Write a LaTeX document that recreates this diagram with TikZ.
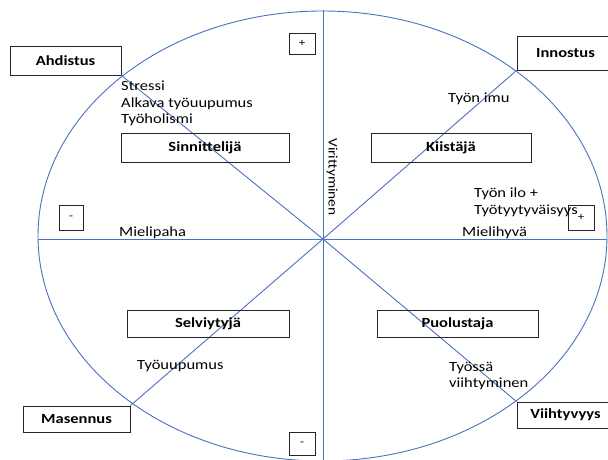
\documentclass[tikz,border=0pt]{standalone}
\usepackage{fontspec}
\setmainfont{Carlito}[FakeStretch=1.18]
\definecolor{axisblue}{HTML}{4A72C0}
\begin{document}
\begin{tikzpicture}[x=1pt,y=-1pt,
  every node/.style={font=\fontsize{14}{16.5}\selectfont, text=black},
  axis/.style={draw=axisblue, line width=0.9pt},
  lbl/.style={draw=black!85, line width=0.8pt, inner sep=0pt, font=\fontsize{14}{16.5}\selectfont\bfseries},
  sign/.style={draw=black!85, line width=0.8pt, inner sep=0pt, font=\fontsize{11}{12}\selectfont},
  txt/.style={inner sep=0pt, align=left, anchor=west}]
\clip (0,0) rectangle (608,460);
\fill[white] (0,0) rectangle (608,460);
% axes
\coordinate (c) at (323,239);
\coordinate (top) at (323,10);
\coordinate (bot) at (323,461);
\coordinate (lft) at (38,239);
\coordinate (rgt) at (607,239);
\draw[axis] (322.5,236) ellipse [x radius=284.5pt, y radius=225pt];
\draw[axis] (top) -- (bot);
\draw[axis] (lft) -- (rgt);
% corner boxes
\node[lbl, minimum width=111pt, minimum height=29pt] (ahd) at (65.5,60.5) {Ahdistus};
\node[lbl, minimum width=97pt, minimum height=34pt] (inn) at (565.5,53) {Innostus};
\node[lbl, minimum width=107pt, minimum height=26pt] (mas) at (76.5,419) {Masennus};
\node[lbl, minimum width=97pt, minimum height=26pt] (vii) at (565.5,415) {Viihtyvyys};
% diagonals
\draw[axis] (c) -- (ahd.south east);
\draw[axis] (c) -- (inn.south west);
\draw[axis] (c) -- (mas.north east);
\draw[axis] (c) -- (vii.north west);
% inner boxes
\node[lbl, minimum width=168pt, minimum height=29pt] (sin) at (205,147.5) {Sinnittelijä};
\node[lbl, minimum width=160pt, minimum height=29pt] (kii) at (451,147.5) {Kiistäjä};
\node[lbl, minimum width=162pt, minimum height=27pt] (sel) at (208,323.5) {Selviytyjä};
\node[lbl, minimum width=161pt, minimum height=27pt] (puo) at (457.5,323.5) {Puolustaja};
% sign boxes
\node[sign, minimum width=26pt, minimum height=21pt] (pt) at (302,43.5) {+};
\node[sign, minimum width=24pt, minimum height=25pt] (ml) at (71,217.5) {-};
\node[sign, minimum width=26pt, minimum height=25pt] (pr) at (581,217.5) {+};
\node[sign, minimum width=26pt, minimum height=23pt] (mb) at (302,443.5) {-};
% texts
\node[txt, anchor=north west] (str) at (121,81) {Stressi\\Alkava työuupumus\\Työholismi};
\node[txt] (imu) at (448,99) {Työn imu};
\node[txt, anchor=north west] (ilo) at (474,188) {Työn ilo +\\Työtyytyväisyys};
\node[txt] (mpa) at (119,233) {Mielipaha};
\node[txt] (mhy) at (462,233) {Mielihyvä};
\node[txt] (tuu) at (137,366) {Työuupumus};
\node[txt, anchor=north west] (tvi) at (449,362) {Työssä\\viihtyminen};
\node[inner sep=0pt, rotate=-90, font=\fontsize{13}{15}\selectfont] (vir) at (332,177) {Virittyminen};
\end{tikzpicture}
\end{document}
